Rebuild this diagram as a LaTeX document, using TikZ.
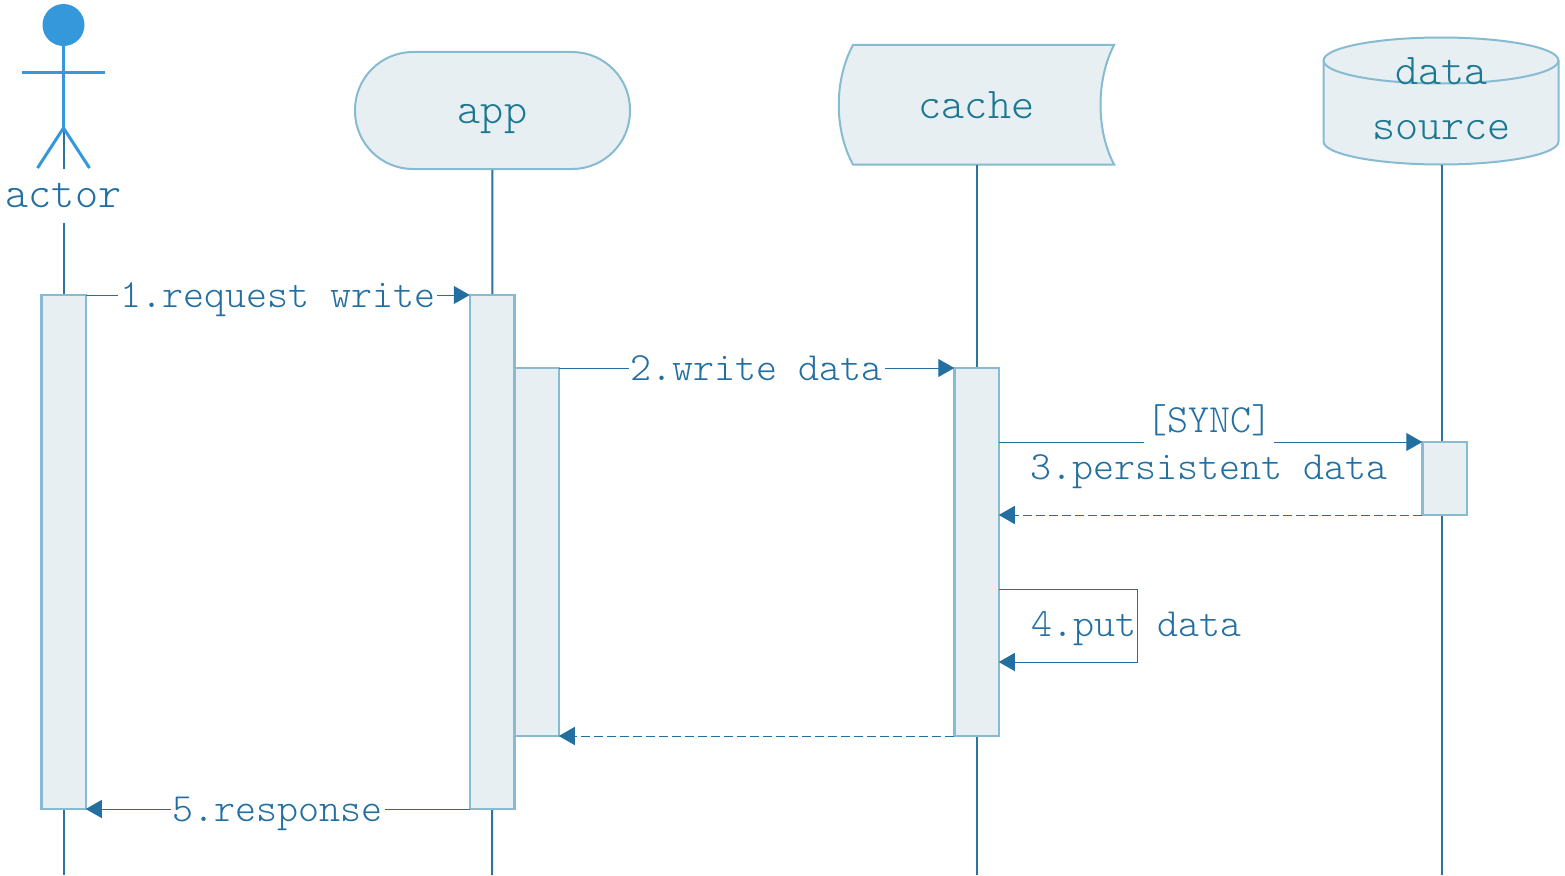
\documentclass[tikz,border=0pt]{standalone}
\usepackage{fontspec}
\setmonofont{Latin Modern Mono Light}
\usepackage{tikz}
\usetikzlibrary{arrows.meta, positioning, calc}
\usepackage{xcolor}
\definecolor{seqFill}{RGB}{231, 239, 243}
\definecolor{seqBorder}{RGB}{135, 187, 209}
\definecolor{seqLine}{RGB}{47, 114, 158}
\definecolor{seqArrow}{RGB}{35, 111, 161}
\definecolor{seqHead}{RGB}{28, 119, 145}
\definecolor{seqActor}{RGB}{52, 152, 219}

\begin{document}
\begin{tikzpicture}[
        x=1pt, y=-1pt,
        headText/.style={text=seqHead, align=center, font=\ttfamily\fontsize{44}{55}\selectfont},
        headNode/.style={draw=seqBorder, fill=seqFill, line width=2pt},
        barNode/.style={rectangle, draw=seqBorder, fill=seqFill, line width=2.5pt, minimum width=44.5pt, inner sep=0pt, outer sep=0pt},
        msgLabel/.style={text=seqArrow, inner xsep=2pt, inner ysep=0pt, text height=29pt, text depth=4pt, font=\ttfamily\fontsize{40}{48}\selectfont},
        msgLine/.style={draw=seqArrow, line width=1pt, -{Triangle[length=16pt, width=18pt]}},
        lifeLine/.style={draw=seqLine, line width=2pt},
        stickLine/.style={draw=seqActor, line width=3pt}
    ]
        \useasboundingbox (0,0) rectangle (1565,875);

        \coordinate (actorHead) at (63.5,25);
        \coordinate (actorHip) at (63.5,128);
        \coordinate (actorEnd) at (63.5,875);
        \coordinate (appEnd) at (492,875);
        \coordinate (cacheEnd) at (976.5,875);
        \coordinate (sourceEnd) at (1441.5,875);

        \node[headText, headNode, rectangle, rounded corners=58pt, minimum width=275pt, minimum height=117pt, inner sep=0pt, text height=30pt, text depth=4pt] (app) at (492.5,110.5) {app};

        \draw[headNode] (853,45) -- (1114,45) .. controls (1096,80) and (1096,130) .. (1114,164.5) -- (853,164.5) .. controls (834,130) and (834,80) .. (853,45) -- cycle;
        \node[headText, minimum width=276pt, minimum height=119.5pt, inner sep=0pt] (cache) at (976.5,104.75) {cache};

        \draw[headNode] (1323.5,60.5) arc[start angle=180, end angle=360, x radius=117.5, y radius=23] -- (1558.5,141.5) arc[start angle=360, end angle=180, x radius=117.5, y radius=-23] -- cycle;
        \draw[seqBorder, line width=2pt] (1323.5,60.5) arc[start angle=180, end angle=360, x radius=117.5, y radius=-23];
        \node[minimum width=235pt, minimum height=127pt, inner sep=0pt] (source) at (1441.5,101) {};
        \node[headText] (sourceText) at (1441.5,99) {data\\source};

        \draw[lifeLine] (actorHip) -- (actorEnd);
        \draw[lifeLine] (app) -- (appEnd);
        \draw[lifeLine] (cache.south) -- (cacheEnd);
        \draw[lifeLine] (source.south) -- (sourceEnd);

        \fill[seqActor] (actorHead) circle[radius=21];
        \draw[stickLine] (actorHead) -- (actorHip);
        \draw[stickLine] (22,72) -- (105,72);
        \draw[stickLine] (37.5,168) -- (actorHip) -- (89.5,168);
        \node[text=seqArrow, fill=white, font=\ttfamily\fontsize{44}{55}\selectfont, minimum width=126pt, minimum height=54pt, inner sep=0pt] (actor) at (63.5,195.5) {actor};

        \node[barNode, minimum height=514pt] (actorBar) at (63.5,552) {};
        \node[barNode, minimum height=514pt] (appBar) at (492,552) {};
        \node[barNode, minimum height=368pt] (appInner) at (536.5,552) {};
        \node[barNode, minimum height=368pt] (cacheBar) at (976.5,552) {};
        \node[barNode, minimum height=73pt] (sourceBar) at (1444.5,478.5) {};

        \coordinate (putStart) at (cacheBar.east |- 0,589);
        \coordinate (putEnd) at (cacheBar.east |- 0,662);
        \coordinate (putTop) at (1137.5,589);
        \coordinate (putBottom) at (1137.5,662);
        \coordinate (syncStart) at (cacheBar.east |- sourceBar.north west);
        \coordinate (syncBack) at (cacheBar.east |- sourceBar.south west);

        \draw[msgLine] (actorBar.north east) -- node[msgLabel, fill=white, midway] (request) {1.request write} (appBar.north west);
        \draw[msgLine] (appInner.north east) -- node[msgLabel, fill=white, midway] (write) {2.write data} (cacheBar.north west);
        \draw[msgLine] (syncStart) -- (sourceBar.north west);
        \node[msgLabel, fill=white, text depth=13pt] (sync) at (1209,424) {[SYNC]};
        \node[msgLabel] (persist) at (1209,467) {3.persistent data};
        \draw[msgLine, dash pattern=on 9pt off 4pt] (sourceBar.south west) -- (syncBack);
        \draw[msgLine] (putStart) -- (putTop) -- (putBottom) -- (putEnd);
        \node[msgLabel] (put) at (1136,624) {4.put data};
        \draw[msgLine, dash pattern=on 9pt off 4pt] (cacheBar.south west) -- (appInner.south east);
        \draw[msgLine] (appBar.south west) -- node[msgLabel, fill=white, midway] (response) {5.response} (actorBar.south east);
    \end{tikzpicture}
\end{document}
